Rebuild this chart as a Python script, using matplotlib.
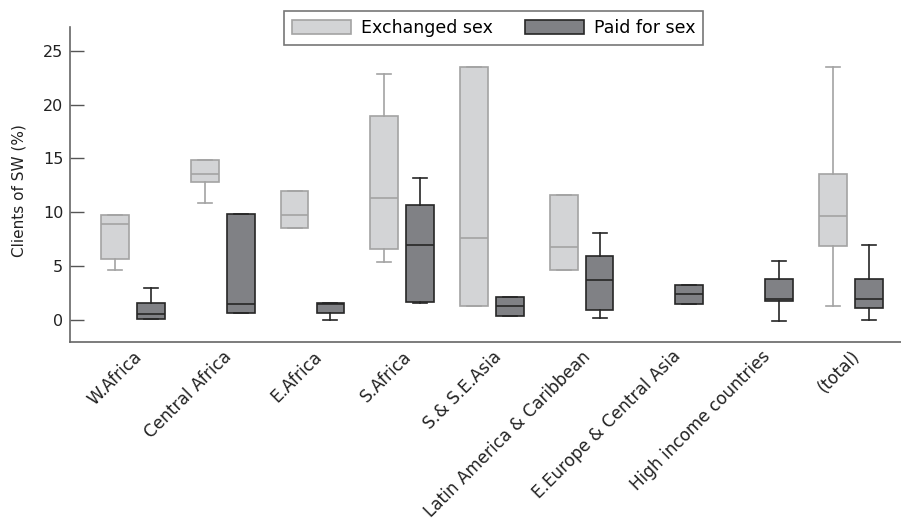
import matplotlib
matplotlib.use("Agg")
import matplotlib.pyplot as plt
from matplotlib.patches import Patch
import numpy as np

categories = ["W.Africa", "Central Africa", "E.Africa", "S.Africa", "S.& S.E.Asia",
              "Latin America & Caribbean", "E.Europe & Central Asia",
              "High income countries", "(total)"]

# Exchanged sex (None = no data)
ex_whislo = [4.7, 10.9, 8.6, 5.4, 1.3, 4.7, None, None, 1.3]
ex_q1     = [5.7, 12.85, 8.6, 6.65, 1.3, 4.7, None, None, 6.85]
ex_med    = [8.9, 13.6, 9.8, 11.3, 7.6, 6.75, None, None, 9.7]
ex_q3     = [9.75, 14.85, 12.0, 18.95, 23.45, 11.6, None, None, 13.55]
ex_whishi = [9.75, 14.85, 12.0, 22.85, 23.45, 11.6, None, None, 23.45]

# Paid for sex
pd_whislo = [0.15, 0.7, 0.03, 1.6, 0.37, 0.2, 1.5, -0.05, 0.0]
pd_q1     = [0.15, 0.7, 0.7, 1.7, 0.37, 1.0, 1.5, 1.75, 1.15]
pd_med    = [0.55, 1.55, 1.55, 7.0, 1.3, 3.7, 2.4, 2.0, 2.0]
pd_q3     = [1.6, 9.85, 1.6, 10.7, 2.15, 5.95, 3.3, 3.85, 3.8]
pd_whishi = [3.0, 9.85, 1.6, 13.2, 2.15, 8.05, 3.3, 5.5, 6.95]

yticks = [0, 5, 10, 15, 20, 25]

fig = plt.figure(figsize=(9.01, 5.26), dpi=100)
ax = fig.add_axes([0.078, 0.35, 0.922, 0.599])

x = np.arange(len(categories))
off = 0.2
w = 0.31

def make_stats(lo, q1, med, q3, hi):
    stats, pos = [], []
    for i in range(len(categories)):
        if med[i] is None:
            continue
        stats.append(dict(whislo=lo[i], q1=q1[i], med=med[i], q3=q3[i], whishi=hi[i], fliers=[]))
        pos.append(i)
    return stats, np.array(pos)

ex_col_f, ex_col_e = "#d3d4d6", "#a3a3a3"
pd_col_f, pd_col_e = "#808185", "#262626"

s, p = make_stats(ex_whislo, ex_q1, ex_med, ex_q3, ex_whishi)
ax.bxp(s, positions=p - off, widths=w, patch_artist=True, showfliers=False,
       boxprops=dict(facecolor=ex_col_f, edgecolor=ex_col_e, linewidth=1.2),
       medianprops=dict(color=ex_col_e, linewidth=1.2),
       whiskerprops=dict(color=ex_col_e, linewidth=1.2),
       capprops=dict(color=ex_col_e, linewidth=1.2), manage_ticks=False)

s, p = make_stats(pd_whislo, pd_q1, pd_med, pd_q3, pd_whishi)
ax.bxp(s, positions=p + off, widths=w, patch_artist=True, showfliers=False,
       boxprops=dict(facecolor=pd_col_f, edgecolor=pd_col_e, linewidth=1.2),
       medianprops=dict(color=pd_col_e, linewidth=1.2),
       whiskerprops=dict(color=pd_col_e, linewidth=1.2),
       capprops=dict(color=pd_col_e, linewidth=1.2), manage_ticks=False)

ax.set_xlim(-0.7, 8.56)
ax.set_ylim(-2, 27.2)
ax.set_yticks(yticks)
ax.set_yticklabels([str(t) for t in yticks], fontsize=11.5, color="#222222")
ax.tick_params(axis="y", direction="in", length=10, width=1, color="#555555", pad=5)
ax.set_xticks(x)
ax.set_xticklabels(categories, rotation=45, ha="right", rotation_mode="anchor",
                   fontsize=12.2, color="#222222")
ax.tick_params(axis="x", length=0, pad=4)
for sp in ["top", "right"]:
    ax.spines[sp].set_visible(False)
for sp in ["left", "bottom"]:
    ax.spines[sp].set_color("#666666")
    ax.spines[sp].set_linewidth(1.2)
ax.set_ylabel("Clients of SW (%)", fontsize=11, color="#222222")
ax.yaxis.set_label_coords(-0.053, 0.479)

handles = [Patch(facecolor=ex_col_f, edgecolor=ex_col_e, linewidth=1.2),
           Patch(facecolor=pd_col_f, edgecolor=pd_col_e, linewidth=1.2)]
leg = fig.legend(handles, ["Exchanged sex", "Paid for sex"], loc="upper center",
                 bbox_to_anchor=(0.548, 0.979), ncol=2, fontsize=12.5, frameon=True,
                 fancybox=False, edgecolor="#555555", handlelength=3.4, handleheight=0.9,
                 columnspacing=1.8, borderpad=0.45, handletextpad=0.6, borderaxespad=0)
leg.get_frame().set_linewidth(1.2)

fig.savefig("out.png", dpi=100)
